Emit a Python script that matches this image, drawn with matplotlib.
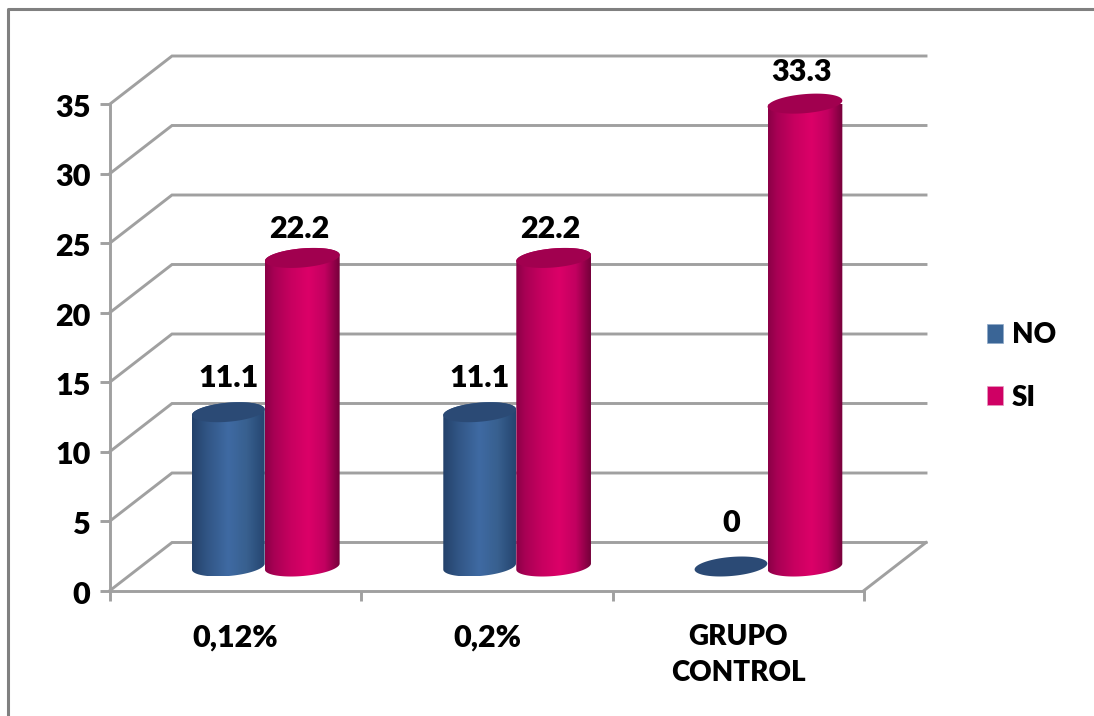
import numpy as np
import matplotlib
matplotlib.use('Agg')
import matplotlib.pyplot as plt
from matplotlib.colors import LinearSegmentedColormap
from matplotlib.lines import Line2D
from matplotlib.patches import Patch, Polygon
from matplotlib.transforms import ScaledTranslation

# Data
categories = ['0,12%', '0,2%', 'GRUPO\nCONTROL']
no_values = [11.1, 11.1, 0]
si_values = [22.2, 22.2, 33.3]
no_labels = ['11.1', '11.1', '0']
si_labels = ['22.2', '22.2', '33.3']
y_ticks = [0, 5, 10, 15, 20, 25, 30, 35]

plt.rcParams['font.family'] = ['Lato', 'DejaVu Sans']
plt.rcParams['font.weight'] = 'heavy'

W, H = 1094, 716
GRAY = '#a0a0a0'
NUM_FONT = 22
TEXT_FONT = 20

fig = plt.figure(figsize=(W / 100, H / 100), dpi=100)
ax = fig.add_axes([110 / W, (H - 590.5) / H, 754 / W, 486.5 / H])
ax.set_xlim(0, 3)
ax.set_ylim(0, 35)

# pixel sizes of one data unit, used for the fake depth
px_x = 754 / 3
px_y = 486.5 / 35
depth_x = 62 / px_x
depth_y = 48 / px_y

# outer frame of the picture
fig.add_artist(Line2D([8 / W, 8 / W, 1], [0, 1 - 9 / H, 1 - 9 / H], transform=fig.transFigure,
                      color='#808080', lw=2.2))

# walls: gridlines run along the side wall and the back wall
for v in y_ticks:
    ax.plot([0, depth_x, 3 + depth_x], [v, v + depth_y, v + depth_y], color=GRAY, lw=2.1,
            clip_on=False, zorder=1, solid_joinstyle='miter')
ax.plot([3, 3 + depth_x], [0, depth_y], color=GRAY, lw=2.1, clip_on=False, zorder=1)

pink_cmap = LinearSegmentedColormap.from_list('pink', [(0, '#8a0046'), (0.12, '#a80054'), (0.35, '#c80060'),
                                                       (0.58, '#dc0068'), (0.8, '#c20060'), (1, '#74003a')])
blue_cmap = LinearSegmentedColormap.from_list('blue', [(0, '#23416a'), (0.2, '#315584'), (0.5, '#3f6aa3'),
                                                       (0.75, '#38608f'), (1, '#254570')])


def ellipse(cx, cy, half_w):
    # tilted ellipse, sizes worked out in pixels and returned in data units
    t = np.linspace(0, 2 * np.pi, 181)
    tilt = np.radians(5)
    b = 9.5
    ex = half_w * np.cos(t) * np.cos(tilt) - b * np.sin(t) * np.sin(tilt)
    ey = half_w * np.cos(t) * np.sin(tilt) + b * np.sin(t) * np.cos(tilt)
    return cx + ex / px_x, cy + ey / px_y


def cylinder(cx, value, half_w, cmap, cap_color, z):
    base = depth_y / 2
    bx, by = ellipse(cx, base, half_w)
    if value > 0:
        tx, ty = ellipse(cx, base + value, half_w)
        right, left = np.argmax(bx), np.argmin(bx)
        # lower arc of the base, then upper arc of the top
        t_right, t_left = np.argmax(tx), np.argmin(tx)
        low = np.r_[left:len(bx), 0:right] if left > right else np.arange(left, right)
        up = np.arange(t_right, t_left) if t_right < t_left else np.r_[t_right:len(tx), 0:t_left]
        pts = np.r_[np.c_[bx[low], by[low]], np.c_[tx[up], ty[up]]]
        shape = Polygon(pts, closed=True, facecolor='none', edgecolor='none',
                        transform=ax.transData, zorder=z)
        ax.add_patch(shape)
        img = ax.imshow(np.linspace(0, 1, 256).reshape(1, -1), cmap=cmap, aspect='auto',
                        extent=[bx.min(), bx.max(), by.min(), ty.max()], zorder=z, interpolation='bilinear')
        img.set_clip_path(shape)
        ax.fill(tx, ty, color=cap_color, lw=0, zorder=z + 0.1, clip_on=False)
    else:
        ax.fill(bx, by, color=cap_color, lw=0, zorder=z + 0.1, clip_on=False)


no_half = 36.5
si_half = 37.5
no_offsets = [34, 34, 44]
si_offsets = [29, 29, 32]
for i in range(len(categories)):
    center = i + 0.5 + depth_x * 0.47
    no_x = center - no_half / px_x
    si_x = center + si_half / px_x
    cylinder(no_x, no_values[i], no_half, blue_cmap, '#2b4a75', 3)
    cylinder(si_x, si_values[i], si_half, pink_cmap, '#a1004f', 4)
    ax.annotate(no_labels[i], (no_x, depth_y / 2 + no_values[i]), xytext=(0, no_offsets[i] * 0.72),
                textcoords='offset points', ha='center', va='center', fontsize=NUM_FONT, color='black',
                annotation_clip=False, zorder=6)
    ax.annotate(si_labels[i], (si_x, depth_y / 2 + si_values[i]), xytext=(-3 * 0.72, si_offsets[i] * 0.72),
                textcoords='offset points', ha='center', va='center', fontsize=NUM_FONT, color='black',
                annotation_clip=False, zorder=6)

ax.set_xlim(0, 3)
ax.set_ylim(0, 35)
ax.patch.set_visible(False)

for side in ['top', 'right']:
    ax.spines[side].set_visible(False)
for side in ['left', 'bottom']:
    ax.spines[side].set_color(GRAY)
    ax.spines[side].set_linewidth(2.1)
    ax.spines[side].set_zorder(2)

ax.set_yticks(y_ticks)
ax.tick_params(axis='y', length=7, width=2.1, color=GRAY, pad=7, labelsize=NUM_FONT)
shift = ScaledTranslation(0, -1.5 / 100, fig.dpi_scale_trans)
for label in ax.get_yticklabels():
    label.set_transform(label.get_transform() + shift)

ax.set_xticks([0, 1, 2, 3])
ax.set_xticklabels([])
ax.tick_params(axis='x', which='major', length=7, width=2.1, color=GRAY)
ax.set_xticks([0.5, 1.5, 2.5], minor=True)
ax.set_xticklabels(categories, minor=True, fontsize=TEXT_FONT, linespacing=1.5, va='top')
ax.tick_params(axis='x', which='minor', length=0, pad=24)
# the two percentage labels read wider than the word label
for label in ax.get_xticklabels(minor=True)[:2]:
    label.set_fontsize(NUM_FONT)

handles = [Patch(facecolor='#3a6596', edgecolor='#8fa9c8', lw=0.5, label='NO'),
           Patch(facecolor='#cf0064', edgecolor='#e59ac0', lw=0.5, label='SI')]
fig.legend(handles=handles, loc='center left', bbox_to_anchor=(987 / W, 1 - 366.5 / H), frameon=False,
           fontsize=TEXT_FONT, handlelength=0.57, handleheight=0.68, handletextpad=0.32, labelspacing=1.3,
           borderpad=0, borderaxespad=0)

fig.savefig('out.png', dpi=100)
